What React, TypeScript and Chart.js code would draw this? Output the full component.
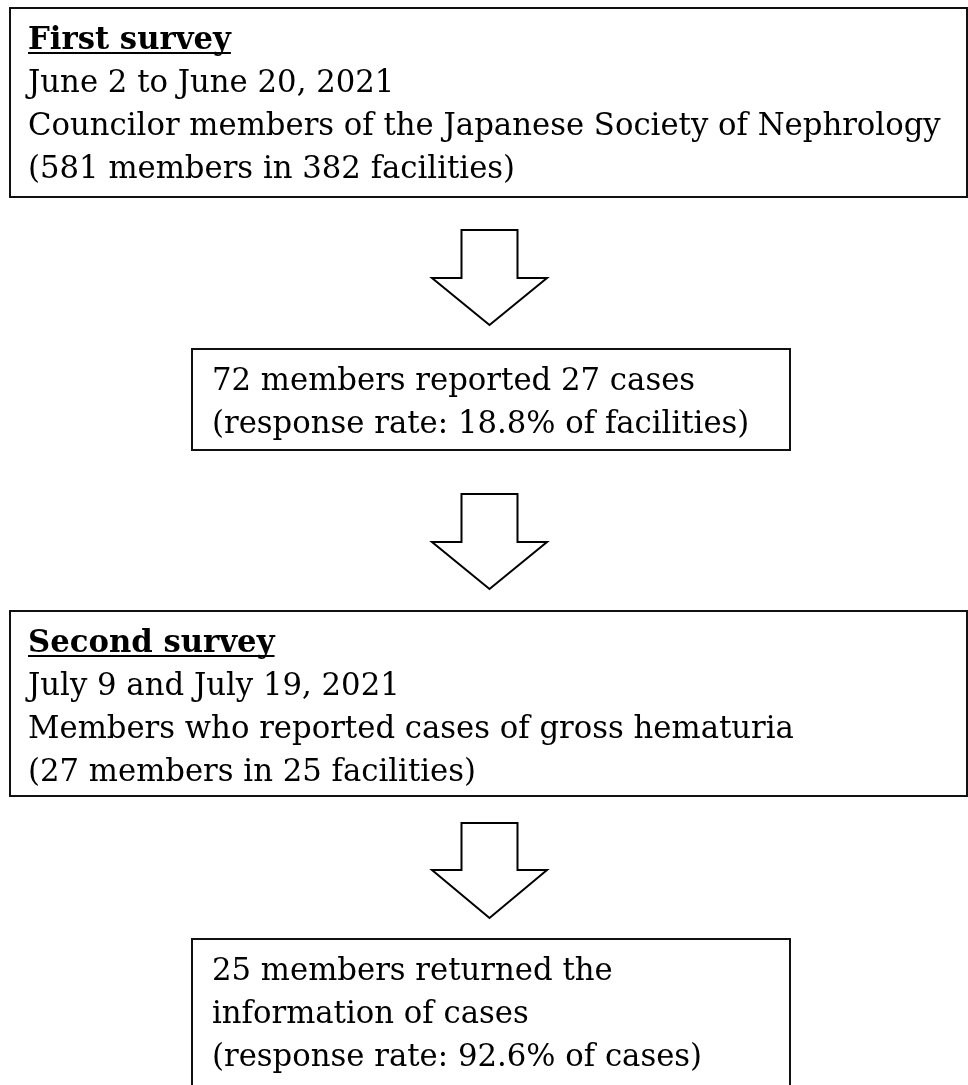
import React, { useEffect, useRef } from "react";
import { Chart, registerables } from "chart.js";

Chart.register(...registerables);

// ---- content (text of the flow chart) ----
const firstTitle = "First survey";
const firstLines = [
  "June 2 to June 20, 2021",
  "Councilor members of the Japanese Society of Nephrology",
  "(581 members in 382 facilities)",
];
const firstResultLines = [
  "72 members reported 27 cases",
  "(response rate: 18.8% of facilities)",
];
const secondTitle = "Second survey";
const secondLines = [
  "July 9 and July 19, 2021",
  "Members who reported cases of gross hematuria",
  "(27 members in 25 facilities)",
];
const secondResultLines = [
  "25 members returned the",
  "information of cases",
  "(response rate: 92.6% of cases)",
];

// ---- layout (value space of the hidden scales) ----
const W = 968;
const H = 1085;
const boxes = [
  { x0: 10, x1: 967, y0: 8, y1: 197, pad: 18, title: firstTitle, lines: firstLines },
  { x0: 192, x1: 790, y0: 349, y1: 450, pad: 20, title: "", lines: firstResultLines },
  { x0: 10, x1: 967, y0: 611, y1: 796, pad: 18, title: secondTitle, lines: secondLines },
  { x0: 192, x1: 790, y0: 939, y1: 1110, pad: 20, title: "", lines: secondResultLines },
];
const arrows = [
  { top: 230, wing: 278, tip: 325 },
  { top: 494, wing: 542, tip: 589 },
  { top: 823, wing: 870, tip: 918 },
];
const arrowCx = 489.5;
const shaftHalf = 28;
const wingHalf = 57.5;
const firstBaseline = 41;
const lineGap = 43;
const refLine = "Councilor members of the Japanese Society of Nephrology";
const refWidth = 913;
const FONT = '"DejaVu Serif", "Liberation Serif", serif';

const flowPlugin = {
  id: "flow",
  afterDraw(chart: any) {
    const ctx = chart.ctx as CanvasRenderingContext2D;
    const xs = chart.scales.x;
    const ys = chart.scales.y;
    const px = (v: number) => xs.getPixelForValue(v);
    const py = (v: number) => ys.getPixelForValue(v);

    ctx.save();
    ctx.font = `100px ${FONT}`;
    const w100 = ctx.measureText(refLine).width;
    const size = (100 * refWidth) / w100;

    // boxes
    boxes.forEach((b) => {
      ctx.fillStyle = "#ffffff";
      ctx.fillRect(px(b.x0), py(b.y0), px(b.x1) - px(b.x0), py(b.y1) - py(b.y0));
      ctx.strokeStyle = "#111111";
      ctx.lineWidth = 2;
      ctx.strokeRect(px(b.x0), py(b.y0), px(b.x1) - px(b.x0), py(b.y1) - py(b.y0));

      const tx = px(b.x0 + b.pad);
      let row = 0;
      ctx.fillStyle = "#000000";
      ctx.textBaseline = "alphabetic";
      ctx.textAlign = "left";
      if (b.title) {
        ctx.font = `bold ${size}px ${FONT}`;
        const yb = py(b.y0 + firstBaseline);
        ctx.fillText(b.title, tx, yb);
        const tw = ctx.measureText(b.title).width;
        ctx.fillRect(tx, yb + 3, tw, 2);
        row++;
      }
      ctx.font = `${size}px ${FONT}`;
      b.lines.forEach((l) => {
        ctx.fillText(l, tx, py(b.y0 + firstBaseline + row * lineGap));
        row++;
      });
    });

    // arrows
    arrows.forEach((a) => {
      ctx.beginPath();
      ctx.moveTo(px(arrowCx - shaftHalf), py(a.top));
      ctx.lineTo(px(arrowCx + shaftHalf), py(a.top));
      ctx.lineTo(px(arrowCx + shaftHalf), py(a.wing));
      ctx.lineTo(px(arrowCx + wingHalf), py(a.wing));
      ctx.lineTo(px(arrowCx), py(a.tip));
      ctx.lineTo(px(arrowCx - wingHalf), py(a.wing));
      ctx.lineTo(px(arrowCx - shaftHalf), py(a.wing));
      ctx.closePath();
      ctx.fillStyle = "#ffffff";
      ctx.fill();
      ctx.strokeStyle = "#000000";
      ctx.lineWidth = 2;
      ctx.lineJoin = "miter";
      ctx.stroke();
    });
    ctx.restore();
  },
};

export default function App() {
  const ref = useRef<HTMLCanvasElement | null>(null);
  useEffect(() => {
    document.body.style.margin = "0";
    const canvas = ref.current!;
    const chart = new Chart(canvas, {
      type: "scatter",
      data: { datasets: [{ data: [], pointRadius: 0 }] },
      options: {
        animation: false,
        responsive: false,
        maintainAspectRatio: false,
        events: [],
        layout: { padding: 0 },
        plugins: { legend: { display: false }, tooltip: { enabled: false } },
        scales: {
          x: { type: "linear", min: 0, max: W, display: false },
          y: { type: "linear", min: 0, max: H, reverse: true, display: false },
        },
      },
      plugins: [flowPlugin],
    });
    return () => chart.destroy();
  }, []);
  return (
    <div style={{ position: "absolute", left: 0, top: 0, width: W, height: H, background: "#fff" }}>
      <canvas ref={ref} width={W} height={H} style={{ width: W, height: H, display: "block" }} />
    </div>
  );
}
